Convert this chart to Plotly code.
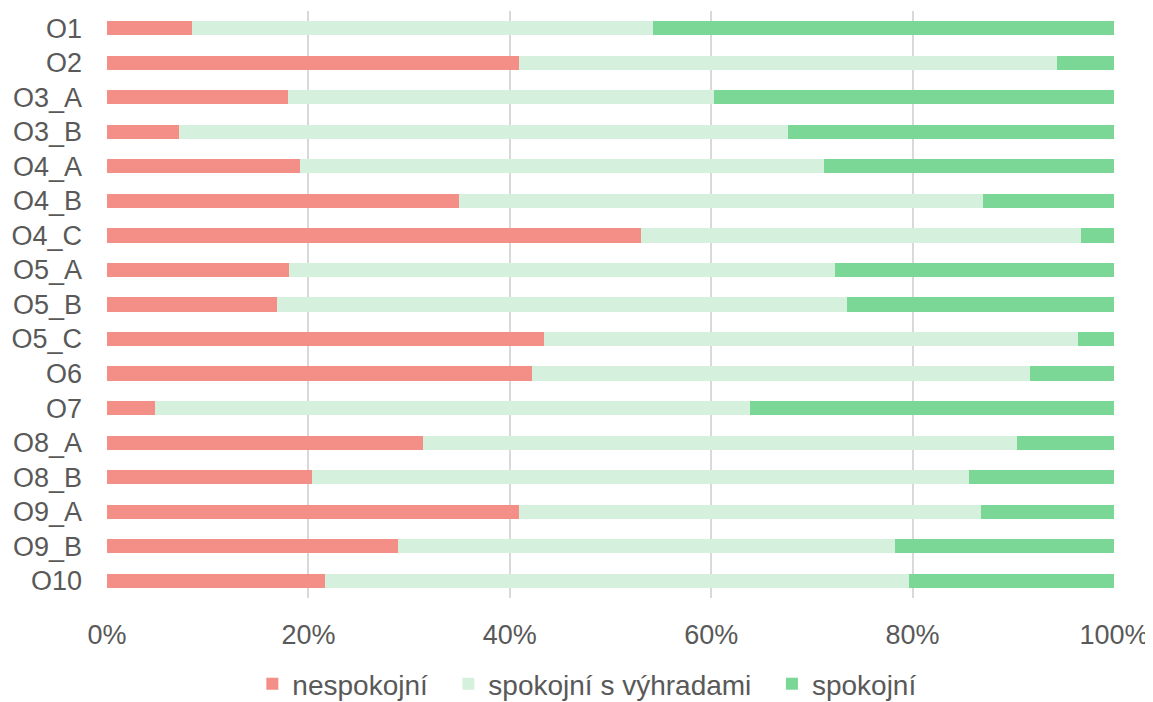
import plotly.graph_objects as go

# categories (top to bottom)
otazky = ["O1", "O2", "O3_A", "O3_B", "O4_A", "O4_B", "O4_C", "O5_A", "O5_B",
          "O5_C", "O6", "O7", "O8_A", "O8_B", "O9_A", "O9_B", "O10"]

# shares in percent
nespokojni = [8.4, 40.9, 18.0, 7.1, 19.2, 35.0, 53.0, 18.1, 16.9,
              43.4, 42.2, 4.8, 31.4, 20.4, 40.9, 28.9, 21.6]
s_vyhradami = [45.8, 53.4, 42.3, 60.5, 52.0, 52.0, 43.7, 54.2, 56.6,
               53.0, 49.5, 59.1, 59.0, 65.2, 45.9, 49.4, 58.0]
spokojni = [45.8, 5.7, 39.7, 32.4, 28.8, 13.0, 3.3, 27.7, 26.5,
            3.6, 8.3, 36.1, 9.6, 14.4, 13.2, 21.7, 20.4]

x_ticks = [0, 20, 40, 60, 80, 100]
x_labels = ["0%", "20%", "40%", "60%", "80%", "100%"]

series = [
    ("nespokojní", nespokojni, "#F48F87"),
    ("spokojní s výhradami", s_vyhradami, "#D5F1DD"),
    ("spokojní", spokojni, "#7BD795"),
]

fig = go.Figure()
for i, (name, vals, col) in enumerate(series):
    # a bit of extra room between legend entries
    pad = "\u00a0\u00a0" if i < len(series) - 1 else ""
    fig.add_trace(go.Bar(
        y=otazky, x=vals, name=name + pad, orientation="h",
        marker=dict(color=col, line=dict(width=0)),
        hovertemplate="%{y}: %{x}%<extra>" + name + "</extra>",
    ))

# page body has an 8px margin, so the figure is a bit smaller and shifted
fig.update_layout(
    barmode="stack",
    bargap=0.59,
    width=1145, height=694,
    margin=dict(l=99, r=39, t=3, b=104, autoexpand=False),
    paper_bgcolor="white", plot_bgcolor="white",
    font=dict(family="Liberation Sans", color="#595959"),
    legend=dict(orientation="h", x=0.477, xanchor="center", y=-0.1465, yanchor="middle",
                font=dict(size=28, color="#595959"), traceorder="normal"),
    showlegend=True,
)
fig.update_xaxes(
    range=[0, 100], tickvals=x_ticks, ticktext=x_labels,
    showgrid=True, gridcolor="#D9D9D9", gridwidth=1.5,
    zeroline=False, showline=False, ticks="", automargin=False,
    tickfont=dict(size=27, color="#595959"), ticklabelstandoff=18,
)
fig.update_yaxes(
    autorange="reversed", showgrid=False, ticks="", showline=False, automargin=False,
    tickfont=dict(size=27, color="#595959"), ticklabelstandoff=24,
)

fig.write_html("out.html")
